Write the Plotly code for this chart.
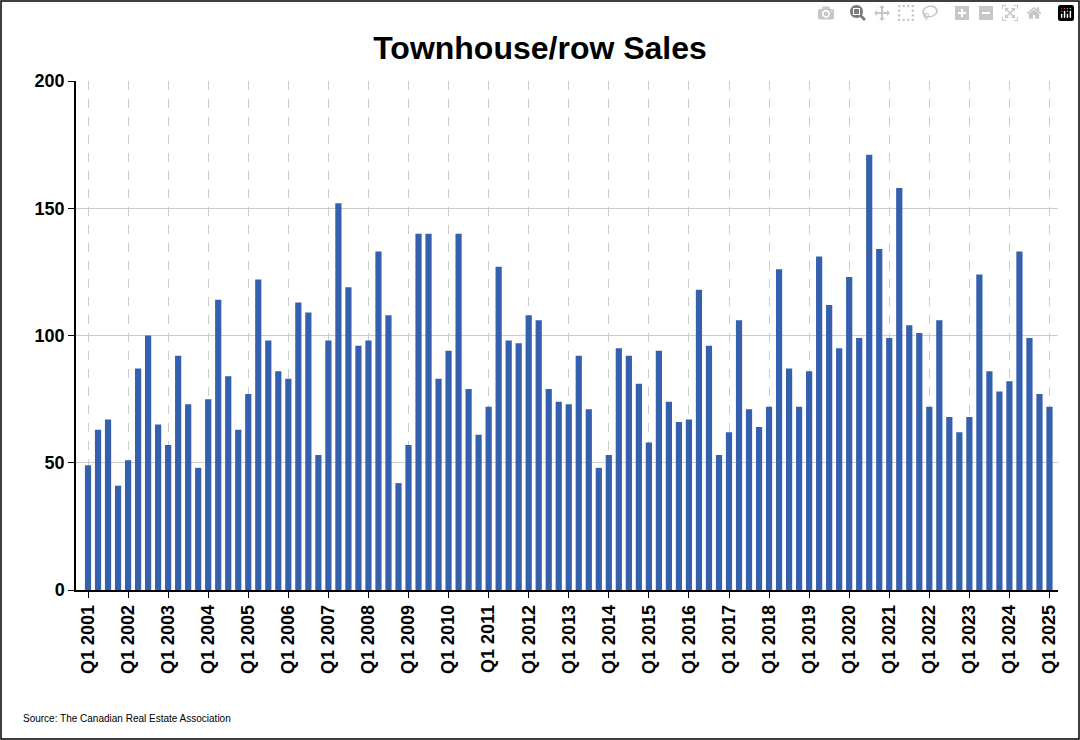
import plotly.graph_objects as go

# Quarterly townhouse/row sales, Q1 2001 .. Q1 2025
years = list(range(2001, 2026))
sales = [
    49, 63, 67, 41,
    51, 87, 100, 65,
    57, 92, 73, 48,
    75, 114, 84, 63,
    77, 122, 98, 86,
    83, 113, 109, 53,
    98, 152, 119, 96,
    98, 133, 108, 42,
    57, 140, 140, 83,
    94, 140, 79, 61,
    72, 127, 98, 97,
    108, 106, 79, 74,
    73, 92, 71, 48,
    53, 95, 92, 81,
    58, 94, 74, 66,
    67, 118, 96, 53,
    62, 106, 71, 64,
    72, 126, 87, 72,
    86, 131, 112, 95,
    123, 99, 171, 134,
    99, 158, 104, 101,
    72, 106, 68, 62,
    68, 124, 86, 78,
    82, 133, 99, 77,
    72,
]
tick_labels = [f"<b>Q1 {y}</b>" for y in years]
y_ticks = [0, 50, 100, 150, 200]

idx = list(range(len(sales)))
fig = go.Figure(go.Bar(x=idx, y=sales, marker_color="#3560AD", width=0.62,
                       marker_line_width=0))

fig.update_layout(
    width=1080, height=740,
    paper_bgcolor="white", plot_bgcolor="white",
    margin=dict(l=76, r=22, t=81, b=150),
    title=dict(text="<b>Townhouse/row Sales</b>", x=0.5, y=0.95,
               font=dict(family="Liberation Sans, Arial", size=32, color="black")),
    font=dict(family="Liberation Sans, Arial", color="black"),
    showlegend=False,
)
fig.update_xaxes(
    range=[-1.2, 96.85], tickvals=idx[::4], ticktext=tick_labels,
    tickangle=-90, tickfont=dict(size=18, family="Liberation Sans, Arial"),
    showgrid=True, gridcolor="#cccccc", griddash="dash", gridwidth=1,
    showline=True, linecolor="black", linewidth=1.5,
    ticks="outside", ticklen=6, tickcolor="black",
)
fig.update_yaxes(
    range=[0, 200], tickvals=y_ticks, ticktext=[f"<b>{v}</b>" for v in y_ticks],
    tickfont=dict(size=18, family="Liberation Sans, Arial"),
    showgrid=True, gridcolor="#cccccc", gridwidth=1,
    showline=True, linecolor="black", linewidth=1.5,
    ticks="outside", ticklen=6, tickcolor="black", zeroline=False,
)
pw, ph = 1080 - 76 - 22, 740 - 81 - 150
fig.add_shape(type="rect", xref="paper", yref="paper",
              x0=-75 / pw, x1=1 + 21 / pw, y0=-149 / ph, y1=1 + 80 / ph,
              line=dict(color="black", width=1.5))
fig.add_annotation(text="Source: The Canadian Real Estate Association",
                   xref="paper", yref="paper", x=-55 / pw, y=-128 / ph,
                   xanchor="left", yanchor="middle", showarrow=False,
                   font=dict(size=10, family="Liberation Sans, Arial"))

fig.write_html("out.html",
               post_script="document.body.style.margin='0px';document.body.style.overflow='hidden';")
